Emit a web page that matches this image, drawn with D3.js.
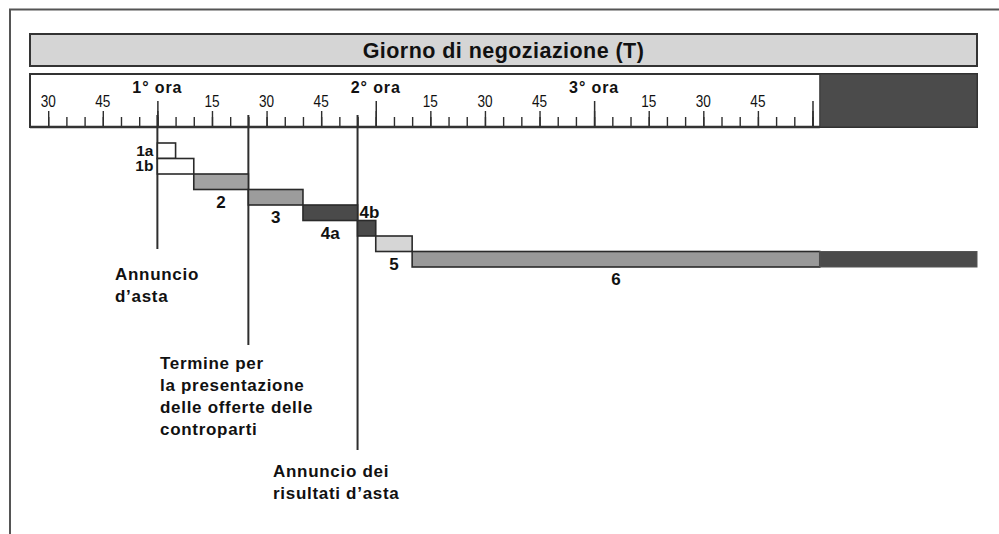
<!DOCTYPE html>
<html>
<head>
<meta charset="utf-8">
<script src="https://cdn.jsdelivr.net/npm/d3@7"></script>
<style>
  html, body { margin: 0; padding: 0; background: #fff; }
  svg { display: block; }
</style>
</head>
<body>
<svg id="chart" width="999" height="534"></svg>
<script>
// ---------------- DATA ----------------
const titleText = "Giorno di negoziazione (T)";

// minutes relative to the start of the 1st hour ("1° ora")
const majorTickMinutes = [-30, -15, 0, 15, 30, 45, 60, 75, 90, 105, 120, 135, 150, 165, 180];
const majorTickLabels  = ["30", "45", "1° ora", "15", "30", "45", "2° ora", "15", "30", "45", "3° ora", "15", "30", "45", ""];
const hourTickMinutes  = [0, 60, 120, 180];
const minorTickMinutes = [-30, -25, -20, -15, -10, -5, 0, 5, 10, 15, 20, 25, 30, 35, 40, 45, 50, 55,
                          60, 65, 70, 75, 80, 85, 90, 95, 100, 105, 110, 115, 120, 125, 130, 135,
                          140, 145, 150, 155, 160, 165, 170, 175, 180];

const phases     = ["1a", "1b", "2", "3", "4a", "4b", "5", "6"];
const phaseStart = [0, 0, 10, 25, 40, 55, 60, 70];
const phaseEnd   = [5, 10, 25, 40, 55, 60, 70, 182];

const closeStart = 182;    // dark (closed) part of the day
const dayEnd     = 225.2;
const dayStart   = -35;

const eventMinutes = [0, 25, 55];
const eventLabels  = [
  ["Annuncio", "d\u2019asta"],
  ["Termine per", "la presentazione", "delle offerte delle", "controparti"],
  ["Annuncio dei", "risultati d\u2019asta"]
];

// ---------------- STYLE / LAYOUT ----------------
const phaseFill = { "1a": "#ffffff", "1b": "#ffffff", "2": "#a2a2a2", "3": "#9c9c9c",
                    "4a": "#4a4a4a", "4b": "#4a4a4a", "5": "#d6d6d6", "6": "#999999" };
const darkFill = "#4b4b4b";
const lineCol = "#2e2e2e";
const sansBold = "'Liberation Sans', Arial, Helvetica, sans-serif";

const svg = d3.select("#chart");

const x = d3.scaleLinear().domain([dayStart, dayEnd]).range([30, 977]);
const y = d3.scaleBand().domain(phases).range([143, 267]).padding(0);

// outer frame (left + top lines)
svg.append("path")
  .attr("d", "M10,534 L10,9.5 L999,9.5")
  .attr("fill", "none").attr("stroke", "#555").attr("stroke-width", 2);

// title bar
svg.append("rect")
  .attr("x", x(dayStart)).attr("y", 34)
  .attr("width", x(dayEnd) - x(dayStart)).attr("height", 32)
  .attr("fill", "#d5d5d5").attr("stroke", "#333").attr("stroke-width", 2);
svg.append("text")
  .attr("x", (x(dayStart) + x(dayEnd)) / 2).attr("y", 57.5)
  .attr("text-anchor", "middle")
  .attr("font-family", sansBold).attr("font-weight", "bold")
  .attr("font-size", 21.5).attr("letter-spacing", 0.45)
  .attr("fill", "#111")
  .text(titleText);

// ruler box
const rulerTop = 74, rulerBottom = 127;
svg.append("rect")
  .attr("x", x(dayStart)).attr("y", rulerTop)
  .attr("width", x(dayEnd) - x(dayStart)).attr("height", rulerBottom - rulerTop)
  .attr("fill", "#fff").attr("stroke", "#333").attr("stroke-width", 2);
svg.append("rect")
  .attr("x", x(closeStart)).attr("y", rulerTop)
  .attr("width", x(dayEnd) - x(closeStart)).attr("height", rulerBottom - rulerTop)
  .attr("fill", darkFill).attr("stroke", "#333").attr("stroke-width", 1);

// minor ticks via d3 axis
const minorAxis = d3.axisTop(x).tickValues(minorTickMinutes).tickSize(10).tickFormat("");
const gMinor = svg.append("g").attr("transform", `translate(0,${rulerBottom})`).call(minorAxis);
gMinor.select(".domain").remove();
gMinor.selectAll(".tick line").attr("stroke", lineCol).attr("stroke-width", 1.4);

// major (15-min) ticks
const majorAxis = d3.axisTop(x).tickValues(majorTickMinutes).tickSize(16).tickFormat("");
const gMajor = svg.append("g").attr("transform", `translate(0,${rulerBottom})`).call(majorAxis);
gMajor.select(".domain").remove();
gMajor.selectAll(".tick line").attr("stroke", lineCol).attr("stroke-width", 1.4);

// hour ticks
const hourAxis = d3.axisTop(x).tickValues(hourTickMinutes).tickSize(26).tickFormat("");
const gHour = svg.append("g").attr("transform", `translate(0,${rulerBottom})`).call(hourAxis);
gHour.select(".domain").remove();
gHour.selectAll(".tick line").attr("stroke", lineCol).attr("stroke-width", 1.5);

// baseline of ruler
svg.append("line")
  .attr("x1", x(dayStart)).attr("x2", x(closeStart))
  .attr("y1", rulerBottom).attr("y2", rulerBottom)
  .attr("stroke", "#333").attr("stroke-width", 2.5);

// tick labels
majorTickMinutes.forEach((m, i) => {
  const lab = majorTickLabels[i];
  if (!lab) return;
  const isHour = lab.indexOf("ora") >= 0;
  if (isHour) {
    svg.append("text")
      .attr("x", x(m)).attr("y", 93)
      .attr("text-anchor", "middle")
      .attr("font-family", sansBold).attr("font-weight", "bold")
      .attr("font-size", 16).attr("letter-spacing", 0.9)
      .attr("fill", "#111")
      .text(lab);
  } else {
    svg.append("text")
      .attr("transform", `translate(${x(m)},107) scale(0.8,1)`)
      .attr("text-anchor", "middle")
      .attr("font-family", sansBold)
      .attr("font-size", 17)
      .attr("fill", "#111")
      .text(lab);
  }
});

// event vertical lines
const eventLineEnds = [249, 345, 450];
eventMinutes.forEach((m, i) => {
  svg.append("line")
    .attr("x1", x(m)).attr("x2", x(m))
    .attr("y1", 115).attr("y2", eventLineEnds[i])
    .attr("stroke", lineCol).attr("stroke-width", 2);
});

// phase bars
const phaseData = phases.map((p, i) => ({ p, s: phaseStart[i], e: phaseEnd[i] }));
svg.append("g").selectAll("rect").data(phaseData).join("rect")
  .attr("x", d => x(d.s)).attr("y", d => y(d.p))
  .attr("width", d => x(d.e) - x(d.s)).attr("height", y.bandwidth())
  .attr("fill", d => phaseFill[d.p])
  .attr("stroke", "#2a2a2a").attr("stroke-width", 1.6);

// closed extension of phase 6
svg.append("rect")
  .attr("x", x(closeStart)).attr("y", y("6"))
  .attr("width", x(dayEnd) - x(closeStart)).attr("height", y.bandwidth())
  .attr("fill", darkFill).attr("stroke", "#555").attr("stroke-width", 1);

// phase labels
phaseData.forEach(d => {
  let lx, ly, anchor, fs = 17;
  if (d.p === "1a" || d.p === "1b") {
    lx = x(d.s) - 4; ly = y(d.p) + y.bandwidth() / 2 + 5; anchor = "end"; fs = 15.5;
  } else if (d.p === "4b") {
    lx = x(d.s) + 2; ly = y(d.p) - 3; anchor = "start";
  } else {
    lx = (x(d.s) + x(d.e)) / 2; ly = y(d.p) + y.bandwidth() + 18; anchor = "middle";
  }
  svg.append("text")
    .attr("x", lx).attr("y", ly)
    .attr("text-anchor", anchor)
    .attr("font-family", sansBold).attr("font-weight", "bold")
    .attr("font-size", fs).attr("fill", "#111")
    .text(d.p);
});

// event labels
const eventLabelPos = [[115, 280], [160, 369], [273, 477]];
eventLabels.forEach((lines, i) => {
  const t = svg.append("text")
    .attr("font-family", sansBold).attr("font-weight", "bold")
    .attr("font-size", 17).attr("letter-spacing", 0.7)
    .attr("fill", "#111");
  lines.forEach((ln, j) => {
    t.append("tspan")
      .attr("x", eventLabelPos[i][0])
      .attr("y", eventLabelPos[i][1] + j * 22)
      .text(ln);
  });
});
</script>
</body>
</html>
